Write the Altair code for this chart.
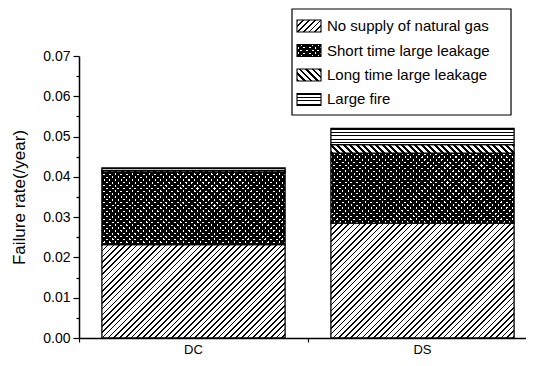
import math
import altair as alt
import pandas as pd

# ---------------- data ----------------
groups = ["DC", "DS"]
causes = [
    "No supply of natural gas",
    "Short time large leakage",
    "Long time large leakage",
    "Large fire",
]
dc_rates = [0.0232, 0.0180, 0.0004, 0.0006]
ds_rates = [0.0285, 0.0174, 0.0021, 0.0040]
y_major = [0.00, 0.01, 0.02, 0.03, 0.04, 0.05, 0.06, 0.07]
y_minor = [0.005, 0.015, 0.025, 0.035, 0.045, 0.055, 0.065]

rates = {"DC": dc_rates, "DS": ds_rates}
rows = []
for g in groups:
    for i, c in enumerate(causes):
        rows.append({"group": g, "cause": c, "order": i, "rate": rates[g][i]})
df = pd.DataFrame(rows)
legend_df = pd.DataFrame({"cause": causes, "order": list(range(len(causes)))})

# ---------------- layout / style ----------------
PLOT_W, PLOT_H = 447, 282      # view size (svg stays inside the window)
X_RANGE = 458                  # band scale range (axis runs to the window edge)
Y_MAX = 0.07
PAD_IN, PAD_OUT = 0.2, 0.1
FONT = "Liberation Sans"
step = X_RANGE / (len(groups) - PAD_IN + 2 * PAD_OUT)
band_w = step * (1 - PAD_IN)
px_per_unit = PLOT_H / Y_MAX

TRANSPARENT = "rgba(255,255,255,0)"
# (direction, period px, ink width px, paper colour)
PATTERNS = [
    [("/", 4.1, 1.2, "#ffffff")],
    [("/", 4.0, 2.5, "#ffffff"), ("\\", 4.0, 2.5, TRANSPARENT)],
    [("\\", 4.6, 2.0, "#ffffff")],
    [("-", 3.4, 1.1, "#ffffff")],
]


def stripe_gradient(w, h, kind, period, ink_w, paper, ink="#000000"):
    w = max(w, 0.5)
    h = max(h, 0.5)
    if kind == "-":
        span = h
        coords = {"x1": 0, "y1": 0, "x2": 0, "y2": 1}
    else:
        a = (w + h) / (w * w + h * h)
        span = (w + h) / math.sqrt(2)
        if kind == "/":
            coords = {"x1": 0, "y1": 0, "x2": round(a * w, 5), "y2": round(a * h, 5)}
        else:
            coords = {"x1": 0, "y1": 1, "x2": round(a * w, 5), "y2": round(1 - a * h, 5)}
    stops = []
    k = 0
    while k * period < span:
        o0 = round(k * period / span, 5)
        o1 = round(min(1.0, (k * period + ink_w) / span), 5)
        o2 = round(min(1.0, (k + 1) * period / span), 5)
        stops += [
            {"offset": o0, "color": ink},
            {"offset": o1, "color": ink},
            {"offset": o1, "color": paper},
            {"offset": o2, "color": paper},
        ]
        k += 1
    d = {"gradient": "linear", "stops": stops}
    d.update(coords)
    return d


x_scale = alt.Scale(domain=groups, range=[0, X_RANGE],
                    paddingInner=PAD_IN, paddingOuter=PAD_OUT)
y_scale = alt.Scale(domain=[0, Y_MAX], nice=False, zero=True)

x_axis = alt.Axis(
    title=None, bandPosition=-PAD_IN / (2 * (1 - PAD_IN)), ticks=True, tickSize=4,
    tickColor="black", tickWidth=1.2, labelAngle=0, labelFont=FONT,
    labelFontSize=13, labelColor="black", labelPadding=1, domainColor="black",
    domainWidth=1.5, grid=False,
)
y_axis = alt.Axis(
    title="Failure rate(/year)", values=y_major, format=".2f", orient="left",
    tickSize=6, tickColor="black", tickWidth=1.2, labelFont=FONT,
    labelFontSize=14, labelColor="black", labelPadding=3, domainColor="black",
    domainWidth=1.5, grid=False, titleFont=FONT, titleFontSize=17,
    titleFontWeight="normal", titleColor="black", titlePadding=14,
)

stacked = alt.Chart(df).transform_stack(
    stack="rate", groupby=["group"], as_=["lo", "hi"],
    sort=[alt.SortField("order", order="ascending")],
)

bar_layers = []
for g in groups:
    for i, c in enumerate(causes):
        h = rates[g][i] * px_per_unit
        pats = PATTERNS[i]
        for j, (kind, per, ink_w, paper) in enumerate(pats):
            props = {"fill": stripe_gradient(band_w, h, kind, per, ink_w, paper)}
            if j == len(pats) - 1:
                props["stroke"] = "black"
                props["strokeWidth"] = 1.3
            else:
                props["strokeWidth"] = 0
            bar_layers.append(
                stacked.transform_filter(
                    (alt.datum.group == g) & (alt.datum.cause == c)
                ).mark_bar(**props).encode(
                    x=alt.X("group:N", scale=x_scale, axis=x_axis),
                    y=alt.Y("lo:Q", scale=y_scale, axis=y_axis),
                    y2="hi:Q",
                )
            )
bars = alt.layer(*bar_layers).resolve_scale(x="shared", y="shared")

minor = alt.Chart(df).mark_point(opacity=0).encode(
    y=alt.Y(
        "rate:Q", scale=y_scale,
        axis=alt.Axis(
            orient="left", values=y_minor, labels=False, title=None, tickSize=3,
            tickColor="black", tickWidth=1.2, domain=False, grid=False,
        ),
    )
)

# ---------------- legend ----------------
leg_y = alt.Scale(type="band", domain=causes, range=[-36, 49.5],
                  paddingInner=0.51, paddingOuter=0)
SW_W, SW_H = 24, 12

box = alt.Chart(legend_df.head(1)).mark_rect(
    fill="white", stroke="black", strokeWidth=1.2
).encode(x=alt.value(213), x2=alt.value(432), y=alt.value(-47), y2=alt.value(59))

legend_layers = [box]
for i, c in enumerate(causes):
    pats = PATTERNS[i]
    for j, (kind, per, ink_w, paper) in enumerate(pats):
        props = {"fill": stripe_gradient(SW_W, SW_H, kind, per, ink_w, paper)}
        if j == len(pats) - 1:
            props["stroke"] = "black"
            props["strokeWidth"] = 1.1
        else:
            props["strokeWidth"] = 0
        legend_layers.append(
            alt.Chart(legend_df).transform_filter(alt.datum.cause == c)
            .mark_rect(**props)
            .encode(x=alt.value(218), x2=alt.value(242),
                    y=alt.Y("cause:N", scale=leg_y, axis=None))
        )
legend_layers.append(
    alt.Chart(legend_df).mark_text(
        align="left", baseline="middle", font=FONT, fontSize=15, color="black"
    ).encode(
        x=alt.value(248),
        y=alt.Y("cause:N", scale=leg_y, axis=None),
        text="cause:N",
    )
)
legend = alt.layer(*legend_layers).resolve_scale(y="shared")

chart = (
    alt.layer(bars, minor, legend)
    .resolve_scale(y="independent")
    .properties(
        width=PLOT_W,
        height=PLOT_H,
        padding={"left": 71, "top": 48, "right": 0, "bottom": 18},
        autosize=alt.AutoSizeParams(type="none"),
        background="white",
    )
    .configure_view(stroke=None)
)

chart.save("out.html", embed_options={"renderer": "svg", "actions": False})
